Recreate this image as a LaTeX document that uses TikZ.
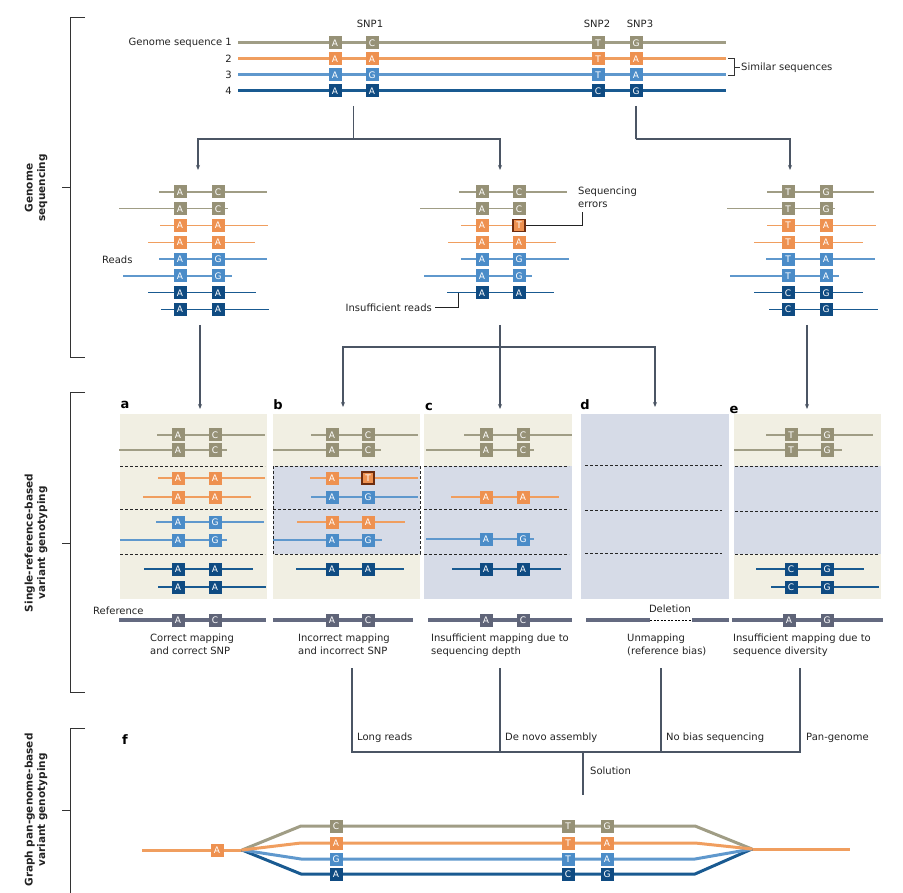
\documentclass[tikz,border=0pt]{standalone}
\usepackage{fontspec}
\setmainfont{DejaVu Sans}
\usetikzlibrary{arrows.meta}
\definecolor{olv}{RGB}{160,157,133}
\definecolor{olvB}{RGB}{150,145,118}
\definecolor{org}{RGB}{240,158,95}
\definecolor{orgB}{RGB}{238,145,80}
\definecolor{lbu}{RGB}{95,152,205}
\definecolor{lbuB}{RGB}{75,140,200}
\definecolor{dbl}{RGB}{25,90,145}
\definecolor{dblB}{RGB}{15,75,130}
\definecolor{con}{RGB}{75,85,100}
\definecolor{refc}{RGB}{100,106,128}
\definecolor{refcB}{RGB}{95,100,120}
\definecolor{beige}{RGB}{241,239,227}
\definecolor{bgb}{RGB}{214,219,231}
\definecolor{errb}{RGB}{110,45,15}
\definecolor{txt}{RGB}{35,35,35}
\newcounter{bxn}
\newcommand\bx[4]{\stepcounter{bxn}\edef\bxname{bx\arabic{bxn}}\node[lbox,fill=#1] (\bxname) at (#2,#3) {#4};}
\newcommand\rd[8]{\draw[readln,draw=#1] (#3,#2) -- (#4,#2);\bx{#1B}{#5}{#2}{#6}\bx{#1B}{#7}{#2}{#8}}
\begin{document}
\begin{tikzpicture}[x=1pt,y=-1pt,
 lbox/.style={minimum width=13pt, minimum height=13pt, inner sep=0pt, text=white, font=\fontsize{9}{9}\selectfont},
 errbox/.style={lbox, fill=orgB, draw=errb, line width=1.3pt, minimum width=12pt, minimum height=12pt},
 readln/.style={line width=1.4pt},
 genln/.style={line width=3pt},
 conn/.style={draw=con, line width=1.2pt},
 arr/.style={conn, -{Stealth[length=5pt,width=4pt]}},
 ptr/.style={draw=txt, line width=1pt},
 lbl/.style={inner sep=0pt, font=\fontsize{10}{12.5}\selectfont, text=txt},
 plab/.style={inner sep=0pt, font=\bfseries\fontsize{13}{13}\selectfont, text=black},
 side/.style={inner sep=0pt, font=\bfseries\fontsize{10.5}{12.5}\selectfont, text=txt, align=center, rotate=90},
 brk/.style={draw=black!80, line width=1pt},
 dsh/.style={dash pattern=on 3pt off 2pt, line width=0.9pt, draw=black!85},
 refln/.style={line width=4.5pt, draw=refc},
]
\useasboundingbox (0,0) rectangle (903,893);

% ---------- side brackets ----------
\draw[brk] (85,18) -- (70,18) -- (70,358) -- (85,358);
\draw[brk] (62,188) -- (70,188);
\node[side] (s1) at (36,188) {Genome\\sequencing};
\draw[brk] (85,393) -- (70,393) -- (70,692) -- (85,692);
\draw[brk] (62,543) -- (70,543);
\node[side] (s2) at (36,543) {Single-reference-based\\variant genotyping};
\draw[brk] (85,728) -- (70,728) -- (70,900);
\draw[brk] (62,810) -- (70,810);
\node[side] (s3) at (36,810) {Graph pan-genome-based\\variant genotyping};

% ---------- genome sequences ----------
\node[lbl] (snp1) at (370,24) {SNP1};
\node[lbl] (snp2) at (597,24) {SNP2};
\node[lbl] (snp3) at (640,24) {SNP3};
\node[lbl,anchor=east] (g1) at (232,43) {Genome sequence 1};
\node[lbl,anchor=east] (g2) at (232,59) {2};
\node[lbl,anchor=east] (g3) at (232,75) {3};
\node[lbl,anchor=east] (g4) at (232,91) {4};
\draw[genln,draw=olv] (238,43) -- (726,43);
\draw[genln,draw=org] (238,59) -- (726,59);
\draw[genln,draw=lbu] (238,75) -- (726,75);
\draw[genln,draw=dbl] (238,91) -- (726,91);
\bx{olvB}{335}{43}{A}\bx{olvB}{372}{43}{C}\bx{olvB}{598}{43}{T}\bx{olvB}{636}{43}{G}
\bx{orgB}{335}{59}{A}\bx{orgB}{372}{59}{A}\bx{orgB}{598}{59}{T}\bx{orgB}{636}{59}{A}
\bx{lbuB}{335}{75}{A}\bx{lbuB}{372}{75}{G}\bx{lbuB}{598}{75}{T}\bx{lbuB}{636}{75}{A}
\bx{dblB}{335}{91}{A}\bx{dblB}{372}{91}{A}\bx{dblB}{598}{91}{C}\bx{dblB}{636}{91}{G}
\draw[brk] (728,59) -- (734,59) -- (734,76) -- (728,76);
\draw[brk] (734,67.5) -- (740,67.5);
\node[lbl,anchor=west] (sim) at (741,68) {Similar sequences};

% ---------- connectors to reads ----------
\coordinate (t1) at (353.5,106);
\coordinate (t1b) at (353.5,139);
\coordinate (c1) at (198,170);
\coordinate (c2) at (500,170);
\coordinate (t3) at (636,106);
\coordinate (t3b) at (636,139);
\coordinate (c3) at (790,170);
\draw[conn] (t1) -- (t1b);
\draw[arr] (t1b) -| (c1);
\draw[arr] (t1b) -| (c2);
\draw[conn] (t3) -- (t3b);
\draw[arr] (t3b) -| (c3);

% ---------- reads column 1 ----------
\rd{olv}{192}{159}{267}{180}{A}{218}{C}
\rd{olv}{208.8}{119}{228}{180}{A}{218}{C}
\rd{org}{225.6}{160}{268}{180}{A}{218}{A}
\rd{org}{242.4}{148}{255}{180}{A}{218}{A}
\rd{lbu}{259.2}{159}{267}{180}{A}{218}{G}
\rd{lbu}{276}{123}{232}{180}{A}{218}{G}
\rd{dbl}{292.8}{148}{256}{180}{A}{218}{A}
\rd{dbl}{309.6}{161}{269}{180}{A}{218}{A}
\node[lbl,anchor=west] (reads) at (102,260) {Reads};

% ---------- reads column 2 ----------
\rd{olv}{192}{459}{567}{482}{A}{519}{C}
\rd{olv}{208.8}{420}{525}{482}{A}{519}{C}
\draw[readln,draw=org] (461,225.6) -- (569,225.6);
\bx{orgB}{482}{225.6}{A}
\node[errbox] (err1) at (519,225.6) {T};
\rd{org}{242.4}{448}{556}{482}{A}{519}{A}
\rd{lbu}{259.2}{461}{569}{482}{A}{519}{G}
\rd{lbu}{276}{424}{532}{482}{A}{519}{G}
\rd{dbl}{292.8}{447}{554}{482}{A}{519}{A}
\node[lbl,anchor=north west,align=left] (seqerr) at (578,187) {Sequencing\\errors};
\coordinate (sepe) at (582,212);
\draw[ptr] (err1.east) -| (sepe);
\node[lbl,anchor=east] (insr) at (432,308) {Insufficient reads};
\coordinate (insc) at (458,292.8);
\draw[ptr] ([xshift=3pt]insr.east) -| (insc);

% ---------- reads column 3 ----------
\rd{olv}{192}{767}{874}{788}{T}{826}{G}
\rd{olv}{208.8}{727}{835}{788}{T}{826}{G}
\rd{org}{225.6}{767}{876}{788}{T}{826}{A}
\rd{org}{242.4}{754}{863}{788}{T}{826}{A}
\rd{lbu}{259.2}{766}{875}{788}{T}{826}{A}
\rd{lbu}{276}{730}{839}{788}{T}{826}{A}
\rd{dbl}{292.8}{754}{863}{788}{C}{826}{G}
\rd{dbl}{309.6}{769}{878}{788}{C}{826}{G}

% ---------- connectors to panels ----------
\coordinate (r1) at (200,325);
\coordinate (pa) at (200,409);
\coordinate (r2) at (500,325);
\coordinate (r2b) at (500,347);
\coordinate (pb) at (343,407);
\coordinate (pc) at (500,409);
\coordinate (pd) at (655,407);
\coordinate (r3) at (807,325);
\coordinate (pe) at (807,409);
\draw[arr] (r1) -- (pa);
\draw[arr] (r2) -- (pc);
\draw[arr] (r2b) -| (pb);
\draw[arr] (r2b) -| (pd);
\draw[arr] (r3) -- (pe);

% ---------- panel backgrounds ----------
\fill[beige] (120,414) rectangle (267,599);
\fill[beige] (273,414) rectangle (420,599);
\fill[bgb] (273,466) rectangle (420,554);
\fill[beige] (424,414) rectangle (572,466);
\fill[bgb] (424,466) rectangle (572,599);
\fill[bgb] (581,414) rectangle (729,599);
\fill[beige] (734,414) rectangle (881,599);
\fill[bgb] (734,466) rectangle (881,554);

\node[plab] (la) at (125,405) {a};
\node[plab] (lb) at (278,405) {b};
\node[plab] (lc) at (429,407) {c};
\node[plab] (ld) at (585,405) {d};
\node[plab] (le) at (734,410) {e};

% dashed separators
\draw[dsh] (120,466) -- (265,466);
\draw[dsh] (120,509) -- (265,509);
\draw[dsh] (120,554) -- (265,554);
\draw[dsh] (273,466) rectangle (420,554);
\draw[dsh] (273,509) -- (420,509);
\draw[dsh] (424,466) -- (569,466);
\draw[dsh] (424,509) -- (569,509);
\draw[dsh] (424,554) -- (569,554);
\draw[dsh] (585,465) -- (722,465);
\draw[dsh] (585,510) -- (722,510);
\draw[dsh] (585,553) -- (722,553);
\draw[dsh] (735,466) -- (879,466);
\draw[dsh] (735,511) -- (879,511);
\draw[dsh] (735,554) -- (879,554);

% panel a
\rd{olv}{435}{157}{265}{178}{A}{215}{C}
\rd{olv}{450}{119}{227}{178}{A}{215}{C}
\rd{org}{478}{158}{265}{178}{A}{215}{A}
\rd{org}{497}{143}{251}{178}{A}{215}{A}
\rd{lbu}{522}{156}{264}{178}{A}{215}{G}
\rd{lbu}{540}{120}{227}{178}{A}{215}{G}
\rd{dbl}{569}{144}{253}{178}{A}{215}{A}
\rd{dbl}{587}{158}{266}{178}{A}{215}{A}
% panel b
\rd{olv}{435}{311}{418}{332}{A}{368}{C}
\rd{olv}{450}{273}{381}{332}{A}{368}{C}
\draw[readln,draw=org] (310,478) -- (418,478);
\bx{orgB}{332}{478}{A}
\node[errbox] (err2) at (368,478) {T};
\rd{lbu}{497}{311}{418}{332}{A}{368}{G}
\rd{org}{522}{297}{405}{332}{A}{368}{A}
\rd{lbu}{540}{273}{382}{332}{A}{368}{G}
\rd{dbl}{569}{296}{404}{332}{A}{368}{A}
% panel c
\rd{olv}{435}{464}{572}{486}{A}{523}{C}
\rd{olv}{450}{426}{534}{486}{A}{523}{C}
\rd{org}{497}{451}{559}{486}{A}{523}{A}
\rd{lbu}{539}{426}{534}{486}{A}{523}{G}
\rd{dbl}{569}{452}{561}{486}{A}{523}{A}
% panel e
\rd{olv}{435}{766}{873}{791}{T}{827}{G}
\rd{olv}{450}{734}{842}{791}{T}{827}{G}
\rd{dbl}{569}{756}{864}{791}{C}{827}{G}
\rd{dbl}{587}{771}{879}{791}{C}{827}{G}

% ---------- reference lines ----------
\node[lbl,anchor=west] (refl) at (93,611) {Reference};
\draw[refln] (119,620) -- (266,620);
\bx{refcB}{178}{620}{A}\bx{refcB}{215}{620}{C}
\draw[refln] (273,620) -- (413,620);
\bx{refcB}{332}{620}{A}\bx{refcB}{368}{620}{C}
\draw[refln] (428,620) -- (572,620);
\bx{refcB}{486}{620}{A}\bx{refcB}{523}{620}{C}
\draw[refln] (586,620) -- (650,620);
\draw[dsh,draw=black,dash pattern=on 2pt off 1.5pt] (650,620) -- (692,620);
\draw[refln] (692,620) -- (729,620);
\node[lbl] (del) at (670,609) {Deletion};
\draw[refln] (732,620) -- (883,620);
\bx{refcB}{789}{620}{A}\bx{refcB}{827}{620}{G}

% captions
\node[lbl,anchor=north west,align=left] (capa) at (150,634) {Correct mapping\\and correct SNP};
\node[lbl,anchor=north west,align=left] (capb) at (298,634) {Incorrect mapping\\and incorrect SNP};
\node[lbl,anchor=north west,align=left] (capc) at (431,634) {Insufficient mapping due to\\sequencing depth};
\node[lbl,anchor=north west,align=left] (capd) at (627,634) {Unmapping\\(reference bias)};
\node[lbl,anchor=north west,align=left] (cape) at (733,634) {Insufficient mapping due to\\sequence diversity};

% ---------- solution connectors ----------
\coordinate (s1t) at (352,668);
\coordinate (s2t) at (500,668);
\coordinate (s3t) at (661,668);
\coordinate (s4t) at (800,668);
\coordinate (s1b) at (352,752);
\coordinate (s2b) at (500,752);
\coordinate (s3b) at (661,752);
\coordinate (s4b) at (800,752);
\coordinate (solt) at (583,752);
\coordinate (solb) at (583,795);
\draw[conn] (s1t) -- (s1b) -- (s4b) -- (s4t);
\draw[conn] (s2t) -- (s2b);
\draw[conn] (s3t) -- (s3b);
\draw[conn] (solt) -- (solb);
\node[lbl,anchor=west] (lr) at (357,738) {Long reads};
\node[lbl,anchor=west] (dn) at (505,738) {De novo assembly};
\node[lbl,anchor=west] (nb) at (666,738) {No bias sequencing};
\node[lbl,anchor=west] (pg) at (806,738) {Pan-genome};
\node[lbl,anchor=west] (sol) at (590,771) {Solution};

% ---------- graph pan-genome ----------
\node[plab] (lf) at (125,740) {f};
\coordinate (sp) at (242,850);
\coordinate (mg) at (752,849);
\draw[genln,draw=org] (142,850) -- (sp);
\draw[genln,draw=org] (mg) -- (850,849);
\draw[genln,draw=dbl,line join=round] (sp) -- (301,874) -- (695,874) -- (mg);
\draw[genln,draw=lbu,line join=round] (sp) -- (301,859) -- (695,859) -- (mg);
\draw[genln,draw=olv,line join=round] (sp) -- (301,826) -- (695,826) -- (mg);
\draw[genln,draw=org,line join=round] (sp) -- (301,843) -- (695,843) -- (mg);
\bx{orgB}{217}{850}{A}
\bx{olvB}{336}{826}{C}\bx{olvB}{568}{826}{T}\bx{olvB}{607}{826}{G}
\bx{orgB}{336}{843}{A}\bx{orgB}{568}{843}{T}\bx{orgB}{607}{843}{A}
\bx{lbuB}{336}{859}{G}\bx{lbuB}{568}{859}{T}\bx{lbuB}{607}{859}{A}
\bx{dblB}{336}{874}{A}\bx{dblB}{568}{874}{C}\bx{dblB}{607}{874}{G}
\end{tikzpicture}
\end{document}
